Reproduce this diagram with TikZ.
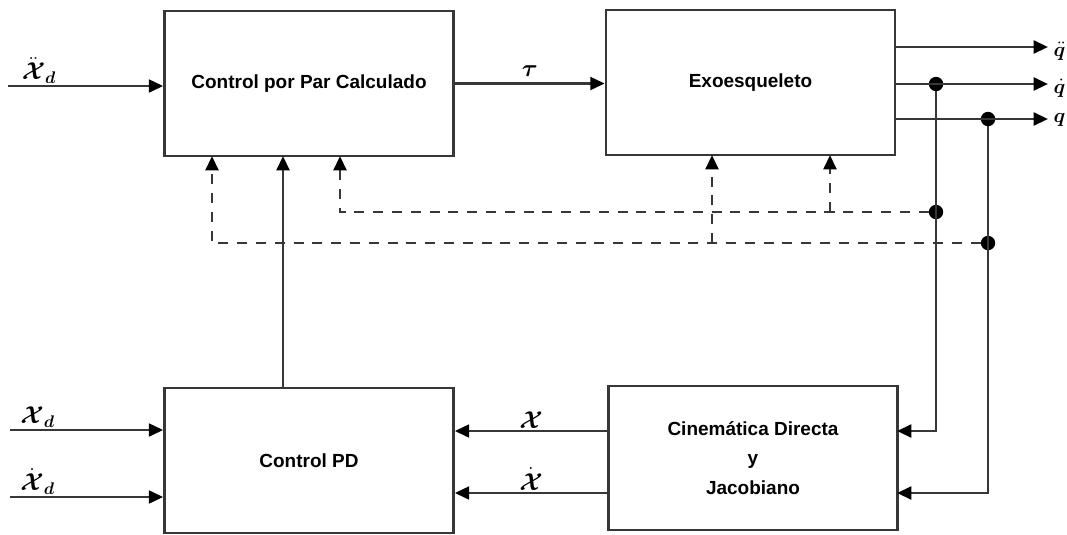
\documentclass[tikz,border=0pt]{standalone}
\usepackage{amsmath, amssymb, bm}
\usepackage{fontspec}
\setmainfont{Liberation Sans}
\usepackage{tikz}
\usetikzlibrary{arrows.meta, calc}
\definecolor{linegray}{RGB}{55,55,55}

\begin{document}
\begin{tikzpicture}[x=0.025cm, y=-0.025cm,
	blockbox/.style={draw=linegray, line width=1.7pt, minimum width=7.23cm, minimum height=3.61cm,
		align=center, font=\bfseries\fontsize{13.5}{21}\selectfont},
	sig/.style={draw=linegray, line width=2pt, -{Triangle[length=3.6mm, width=3.2mm, color=black]}},
	wire/.style={draw=linegray, line width=2pt},
	fbsig/.style={sig, dash pattern=on 2.5mm off 2.2mm},
	fbwire/.style={wire, dash pattern=on 2.5mm off 2.2mm},
	dot/.style={circle, fill=black, minimum size=0.36cm, inner sep=0pt},
	lbl/.style={font=\LARGE, inner sep=1pt},
	outlbl/.style={font=\Large, inner sep=0pt, anchor=west, xshift=3pt}]
	\useasboundingbox (0,0) rectangle (1067,534);
	
	% Blocks
	\node[blockbox] (cpc) at (309,83.5) {Control por Par Calculado};
	\node[blockbox] (exo) at (750.5,82.5) {Exoesqueleto};
	\node[blockbox] (pd) at (309,460.5) {Control PD};
	\node[blockbox] (kin) at (753,458) {Cinemática Directa\\y\\Jacobiano};
	
	% Coordinates
	\coordinate (xdd) at (8,86);
	\coordinate (xd) at (10,430);
	\coordinate (xdot) at (10,497);
	\coordinate (qdd) at (1048,47);
	\coordinate (qd) at (1048,84);
	\coordinate (q) at (1048,119);
	\coordinate (k1) at (897,431);
	\coordinate (k2) at (897,493);
	\coordinate (a1) at (212,156);
	\coordinate (a2) at (340,156);
	\coordinate (a3) at (283,156);
	\coordinate (b1) at (712,155);
	\coordinate (b2) at (830,155);
	
	% Junctions
	\node[dot] (j1) at (936,84) {};
	\node[dot] (j2) at (988,119) {};
	\node[dot] (j3) at (936,212) {};
	\node[dot] (j4) at (988,243) {};
	
	% Forward path
	\draw[sig] (xdd) -- (xdd -| cpc.west) node[pos=0.2, above, lbl] {$\ddot{\bm{\mathcal{X}}}_{\bm{d}}$};
	\draw[sig] (cpc.east) -- (cpc.east -| exo.west) node[midway, above=3pt, lbl] {$\bm{\tau}$};
	\draw[sig] (qdd -| exo.east) -- (qdd) node[outlbl, yshift=-3pt] {$\ddot{\bm{q}}$};
	\draw[sig] (qd -| exo.east) -- (qd) node[outlbl, yshift=-3pt] {$\dot{\bm{q}}$};
	\draw[sig] (q -| exo.east) -- (q) node[outlbl, yshift=-1pt] {$\bm{q}$};
	
	% Feedback to kinematics
	\draw[sig] (j1) |- (k1);
	\draw[sig] (j2) |- (k2);
	
	% Dashed feedback
	\draw[fbsig] (j3) -| (a2);
	\draw[fbsig] (b2 |- j3) -- (b2);
	\draw[fbsig] (j4) -| (a1);
	\draw[fbsig] (b1 |- j4) -- (b1);
	
	% Control PD
	\draw[sig] (a3 |- pd.north) -- (a3);
	\draw[sig] (xd) -- (xd -| pd.west) node[pos=0.18, above, lbl] {$\bm{\mathcal{X}}_{\bm{d}}$};
	\draw[sig] (xdot) -- (xdot -| pd.west) node[pos=0.18, above, lbl] {$\dot{\bm{\mathcal{X}}}_{\bm{d}}$};
	\draw[sig] (k1 -| kin.west) -- (k1 -| pd.east) node[midway, above, lbl] {$\bm{\mathcal{X}}$};
	\draw[sig] (k2 -| kin.west) -- (k2 -| pd.east) node[midway, above, lbl] {$\dot{\bm{\mathcal{X}}}$};
	
\end{tikzpicture}
\end{document}
